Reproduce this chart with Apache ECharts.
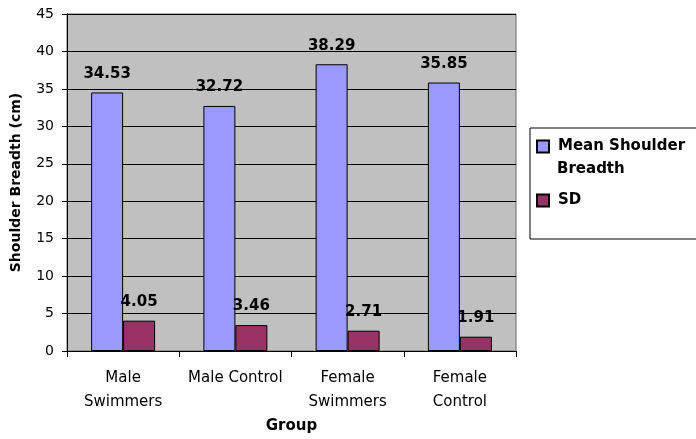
<!DOCTYPE html>
<html>
<head>
<meta charset="utf-8">
<script src="https://cdn.jsdelivr.net/npm/echarts@6/dist/echarts.min.js"></script>
<style>
  html, body { margin: 0; padding: 0; background: #fff; }
  #chart { width: 696px; height: 439px; }
</style>
</head>
<body>
<div id="chart"></div>
<script>
// 数据
const groups = ["Male\nSwimmers", "Male Control", "Female\nSwimmers", "Female\nControl"];
const meanBreadth = [34.53, 32.72, 38.29, 35.85];
const sdValues = [4.05, 3.46, 2.71, 1.91];
const yTicks = { min: 0, max: 45, step: 5 };

const font = "DejaVu Sans, Verdana, sans-serif";
const chart = echarts.init(document.getElementById("chart"));

const barLabel = {
  show: true,
  position: "top",
  distance: 11,
  color: "#000",
  fontFamily: font,
  fontWeight: "bold",
  fontSize: 15,
};

chart.setOption({
  animation: false,
  backgroundColor: "#fff",
  grid: {
    left: 67,
    right: 180,
    top: 14,
    bottom: 88,
    show: true,
    backgroundColor: "#C0C0C0",
    borderColor: "#666",
    borderWidth: 1,
  },
  legend: {
    orient: "vertical",
    left: 530,
    top: 128,
    padding: [11, 30, 31, 6],
    itemGap: 39,
    itemWidth: 12,
    itemHeight: 12,
    icon: "rect",
    borderColor: "#000",
    borderWidth: 1,
    backgroundColor: "#fff",
    formatter: (name) => (name === "Mean Shoulder Breadth" ? "Mean Shoulder" : name),
    textStyle: {
      fontFamily: font,
      fontWeight: "bold",
      fontSize: 15,
      color: "#000",
      padding: [0, 0, 0, 4],
    },
  },
  graphic: [
    {
      type: "text",
      left: 557,
      top: 162,
      z: 100,
      zlevel: 1,
      style: { text: "Breadth", font: "bold 15px " + font, fill: "#000" },
    },
  ],
  xAxis: {
    type: "category",
    data: groups,
    name: "Group",
    nameLocation: "middle",
    nameGap: 68,
    nameTextStyle: { fontFamily: font, fontWeight: "bold", fontSize: 15, color: "#000" },
    axisLine: { lineStyle: { color: "#000", width: 1 } },
    axisTick: { show: true, length: 6, lineStyle: { color: "#000" } },
    axisLabel: {
      fontFamily: font,
      fontSize: 15,
      color: "#000",
      lineHeight: 24,
      margin: 15,
      interval: 0,
    },
  },
  yAxis: {
    type: "value",
    min: yTicks.min,
    max: yTicks.max,
    interval: yTicks.step,
    name: "Shoulder Breadth (cm)",
    nameLocation: "middle",
    nameGap: 44,
    nameTextStyle: { fontFamily: font, fontWeight: "bold", fontSize: 14, color: "#000" },
    axisLine: { show: true, lineStyle: { color: "#000", width: 1 } },
    axisTick: { show: true, length: 5, lineStyle: { color: "#000" } },
    axisLabel: { fontFamily: font, fontSize: 14, color: "#000", margin: 13 },
    splitLine: { show: true, lineStyle: { color: "#000", width: 1 } },
  },
  series: [
    {
      name: "Mean Shoulder Breadth",
      type: "bar",
      data: meanBreadth,
      barGap: "0%",
      barCategoryGap: "43%",
      itemStyle: { color: "#9999FF", borderColor: "#000", borderWidth: 1 },
      label: barLabel,
    },
    {
      name: "SD",
      type: "bar",
      data: sdValues,
      itemStyle: { color: "#993366", borderColor: "#000", borderWidth: 1 },
      label: barLabel,
    },
  ],
});
</script>
</body>
</html>
